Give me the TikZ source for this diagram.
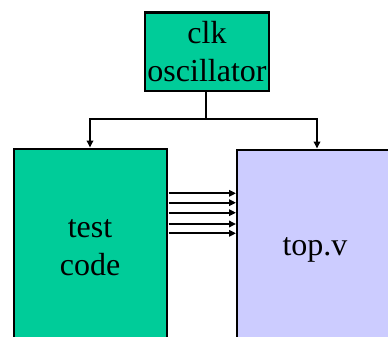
\documentclass[tikz,border=0pt]{standalone}
\usepackage{fontspec}
\setmainfont{Liberation Serif}
\usetikzlibrary{arrows.meta}
\definecolor{tealgreen}{HTML}{00CC99}
\definecolor{lavender}{HTML}{CCCCFF}
\begin{document}
\begin{tikzpicture}[x=1pt,y=-1pt,
  blk/.style={draw=black,line width=2.8pt},
  conn/.style={line width=1.8pt,-{Triangle[length=7pt,width=6.5pt]}},
  lbl/.style={font=\fontsize{32}{38}\selectfont,align=center,inner sep=0pt}]
\useasboundingbox (0,0) rectangle (388,337);
\clip (0,0) rectangle (388,337);
\fill[white] (0,0) rectangle (388,337);
% clk oscillator
\draw[blk,fill=tealgreen] (145,12.5) rectangle (269,91);
\node[lbl] (clk) at (207,52) {clk\\oscillator};
\coordinate (clkb) at (206,92);
% test code box
\draw[blk,fill=tealgreen] (14,149) rectangle (167,345);
\node[lbl] (test) at (90,248) {test\\code};
% top.v box
\draw[blk,fill=lavender] (237,150) rectangle (395,345);
\node[lbl] (top) at (315,250) {top.v};
\coordinate (testtop) at (90,147.5);
\coordinate (toptop) at (317,148.5);
\coordinate (br) at (206,119);
\draw[line width=1.8pt] (clkb) -- (br);
\draw[conn] (br) -| (testtop);
\draw[conn] (br) -| (toptop);
\foreach \y [count=\i] in {193.3,202.7,212.7,224,233.3}{
  \coordinate (s\i) at (168.5,\y);
  \coordinate (e\i) at (236,\y);
  \draw[conn] (s\i) -- (e\i);
}
\end{tikzpicture}
\end{document}
